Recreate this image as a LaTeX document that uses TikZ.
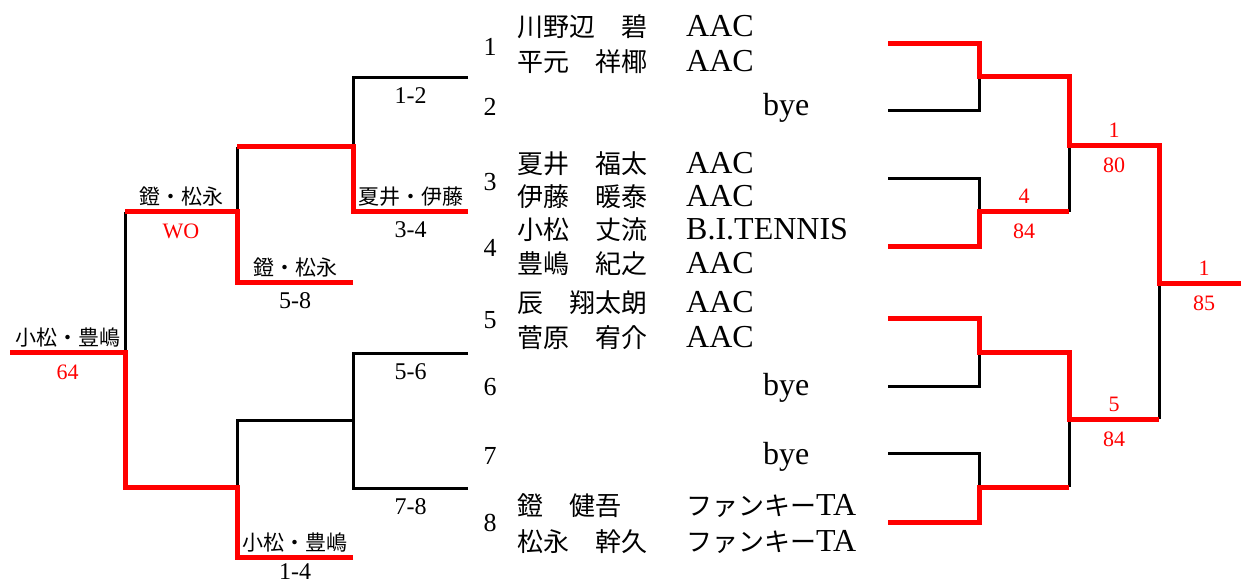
\documentclass[tikz,border=0pt]{standalone}
\usepackage{fontspec}
\setmainfont{Liberation Serif}
\newfontfamily\jp{Noto Sans CJK JP}
\newcommand\kana[1]{{\jp\fontsize{26}{26}\selectfont #1}}
\usetikzlibrary{calc}

\begin{document}
\begin{tikzpicture}[
    x=1pt, y=-1pt,
    win/.style={draw=red, line width=5pt},
    lose/.style={draw=black, line width=3pt},
    every node/.style={inner sep=0pt, anchor=base},
    pairname/.style={font=\jp\fontsize{21}{21}\selectfont, yshift=7pt},
    roundno/.style={font=\fontsize{24}{24}\selectfont, yshift=-26pt},
    score/.style={text=red, font=\fontsize{22}{22}\selectfont},
    scoreup/.style={score, yshift=8pt},
    scoredown/.style={score, yshift=-27pt},
    seed/.style={font=\fontsize{26}{26}\selectfont},
    player/.style={anchor=base west, font=\jp\fontsize{26}{26}\selectfont},
    club/.style={anchor=base west, font=\fontsize{32}{32}\selectfont}
  ]
\useasboundingbox (0,0) rectangle (1241,585);

% Left bracket points
\coordinate (l12) at (468,78);
\coordinate (l34) at (468,212);
\coordinate (l56) at (468,353);
\coordinate (l78) at (468,488);
\coordinate (lq1) at (353,147);
\coordinate (lq2) at (353,420);
\coordinate (l58) at (353,282);
\coordinate (l14) at (353,557);
\coordinate (ls1) at (237,212);
\coordinate (ls2) at (237,487);
\coordinate (lf) at (125,352);
\coordinate (lend) at (10,352);

% Right bracket points
\foreach \i/\y in {1/44,2/111,3/179,4/247,5/318,6/386,7/453,8/522}
  \coordinate (r\i) at (888,\y);
\coordinate (rq1) at (979,77);
\coordinate (rq2) at (979,212);
\coordinate (rq3) at (979,352);
\coordinate (rq4) at (979,487);
\coordinate (rs1) at (1069,146);
\coordinate (rs2) at (1069,419);
\coordinate (rf) at (1159,283);
\coordinate (rend) at (1245,283);

% Lost lines first
\draw[lose] (l12) -| (lq1);
\draw[lose] (lq1 -| ls1) -- (ls1);
\draw[lose] (ls1 -| lf) -- (lf);
\draw[lose] (l56) -| (lq2);
\draw[lose] (l78) -| (lq2) -| (ls2);
\draw[lose] (r2) -| (rq1);
\draw[lose] (r3) -| (rq2);
\draw[lose] (rq2 -| rs1) -- (rs1);
\draw[lose] (r6) -| (rq3);
\draw[lose] (r7) -| (rq4);
\draw[lose] (rq4 -| rs2) -- (rs2);
\draw[lose] (rs2 -| rf) -- (rf);

% Winning paths in red
\draw[win] (l34) -| (lq1) -- (lq1 -| ls1);
\draw[win] (l58) -| (ls1) -- (ls1 -| lf);
\draw[win] (l14) -| (ls2) -| (lf) -- (lend);
\draw[win] (r1) -| (rq1) -| (rs1) -| (rf) -- (rend);
\draw[win] (r4) -| (rq2) -- (rq2 -| rs1);
\draw[win] (r5) -| (rq3) -| (rs2) -- (rs2 -| rf);
\draw[win] (r8) -| (rq4) -- (rq4 -| rs2);

% Left labels
\node[pairname] (fin-name) at ($(lf)!.5!(lend)$) {小松・豊嶋};
\node[scoredown] (fin-score) at ($(lf)!.5!(lend)$) {64};
\node[pairname] (sf1-name) at ($(ls1)!.5!(ls1 -| lf)$) {鐙・松永};
\node[scoredown] (sf1-score) at ($(ls1)!.5!(ls1 -| lf)$) {WO};
\node[pairname] (r58-name) at ($(l58)!.5!(l58 -| ls1)$) {鐙・松永};
\node[roundno] (r58) at ($(l58)!.5!(l58 -| ls1)$) {5-8};
\node[pairname] (r34-name) at ($(l34)!.5!(l34 -| lq1)$) {夏井・伊藤};
\node[roundno] (r34) at ($(l34)!.5!(l34 -| lq1)$) {3-4};
\node[roundno] (r12) at ($(l12)!.5!(l12 -| lq1)$) {1-2};
\node[roundno] (r56) at ($(l56)!.5!(l56 -| lq2)$) {5-6};
\node[roundno] (r78) at ($(l78)!.5!(l78 -| lq2)$) {7-8};
\node[pairname] (r14-name) at ($(l14)!.5!(l14 -| ls2)$) {小松・豊嶋};
\node[roundno, yshift=4pt] (r14) at ($(l14)!.5!(l14 -| ls2)$) {1-4};

% Right scores
\node[scoreup] (q2-up) at ($(rq2)!.5!(rq2 -| rs1)$) {4};
\node[scoredown] (q2-dn) at ($(rq2)!.5!(rq2 -| rs1)$) {84};
\node[scoreup] (s1-up) at ($(rs1)!.5!(rs1 -| rf)$) {1};
\node[scoredown] (s1-dn) at ($(rs1)!.5!(rs1 -| rf)$) {80};
\node[scoreup] (s2-up) at ($(rs2)!.5!(rs2 -| rf)$) {5};
\node[scoredown] (s2-dn) at ($(rs2)!.5!(rs2 -| rf)$) {84};
\node[scoreup] (f-up) at (1204,283) {1};
\node[scoredown] (f-dn) at (1204,283) {85};

% Draw numbers
\foreach \n/\y in {1/56,2/116,3/191,4/257,5/328,6/395,7/464,8/531}
  \node[seed] (seed\n) at (490,\y) {\n};

% Players and clubs
\node[player] (pa) at (517,37) {川野辺　碧};
\node[club] (ca) at (686,37) {AAC};
\node[player] (pb) at (517,72) {平元　祥椰};
\node[club] (cb) at (686,72) {AAC};
\node[club] (bye2) at (763,116) {bye};
\node[player] (pc) at (517,174) {夏井　福太};
\node[club] (cc) at (686,174) {AAC};
\node[player] (pd) at (517,207) {伊藤　暖泰};
\node[club] (cd) at (686,207) {AAC};
\node[player] (pe) at (517,240) {小松　丈流};
\node[club] (ce) at (686,240) {B.I.TENNIS};
\node[player] (pf) at (517,273) {豊嶋　紀之};
\node[club] (cf) at (686,273) {AAC};
\node[player] (pg) at (517,312) {辰　翔太朗};
\node[club] (cg) at (686,312) {AAC};
\node[player] (ph) at (517,347) {菅原　宥介};
\node[club] (ch) at (686,347) {AAC};
\node[club] (bye6) at (763,395) {bye};
\node[club] (bye7) at (763,464) {bye};
\node[player] (pi) at (517,515) {鐙　健吾};
\node[club] (ci) at (686,515) {\kana{ファンキー}TA};
\node[player] (pj) at (517,551) {松永　幹久};
\node[club] (cj) at (686,551) {\kana{ファンキー}TA};

\end{tikzpicture}
\end{document}
